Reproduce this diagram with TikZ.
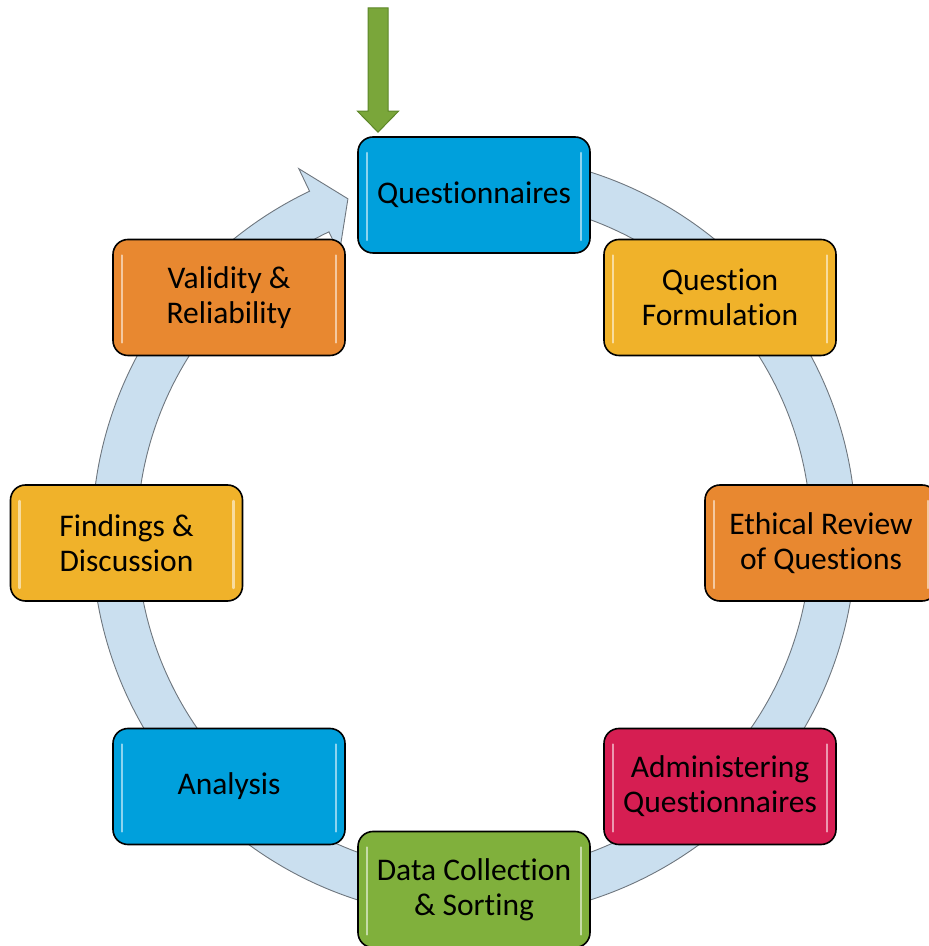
\documentclass[tikz,border=0pt]{standalone}
\usepackage{fontspec}
\setmainfont{Carlito}[Ligatures={NoCommon}]
\usetikzlibrary{calc}
\definecolor{stageblue}{RGB}{0,160,220}
\definecolor{stageyellow}{RGB}{240,178,42}
\definecolor{stageorange}{RGB}{232,136,48}
\definecolor{stagered}{RGB}{214,30,82}
\definecolor{stagegreen}{RGB}{128,176,60}
\definecolor{ringfill}{RGB}{202,223,239}
\definecolor{ringedge}{RGB}{110,118,126}
\definecolor{arrowgreen}{RGB}{122,166,58}
\definecolor{arrowedge}{RGB}{92,134,40}
\begin{document}
\begin{tikzpicture}[x=1pt,y=1pt,
  stage/.style={draw=black, line width=1.6pt, rounded corners=15pt,
    minimum width=232pt, minimum height=116pt, inner sep=0pt,
    align=center, font=\fontsize{31.5}{35}\selectfont, text=black,
    path picture={
      \draw[white, opacity=.55, line width=2.5pt, line cap=round]
        ([xshift=9pt,yshift=-16pt]path picture bounding box.north west) --
        ([xshift=9pt,yshift=13pt]path picture bounding box.south west);
      \draw[white, opacity=.55, line width=2.5pt, line cap=round]
        ([xshift=-9pt,yshift=-16pt]path picture bounding box.north east) --
        ([xshift=-9pt,yshift=13pt]path picture bounding box.south east);
    }},
  ring/.style={draw=ringedge, fill=ringfill, line width=0.9pt, line join=miter},
  entryarrow/.style={draw=arrowedge, fill=arrowgreen, line width=1pt}]
\useasboundingbox (0,0) rectangle (929,946);

% circular arrow behind the stages
\coordinate (c) at (474,410);
\path[ring]
  ($(c)+(85:382)$) arc[start angle=85, end angle=-244.5, radius=382]
  -- ($(c)+(115.5:407)$) -- ($(c)+(110.5:360)$) -- ($(c)+(115.5:313)$)
  -- ($(c)+(115.5:337)$) arc[start angle=-244.5, end angle=85, radius=337]
  -- cycle;

% stages of the cycle
\node[stage, fill=stageblue]   (q)  at (474,751) {Questionnaires};
\node[stage, fill=stageyellow] (qf) at (720,648.5) {Question\\Formulation};
\node[stage, fill=stageorange] (er) at (821,403)   {Ethical Review\\of Questions};
\node[stage, fill=stagered]    (aq) at (720,159.5) {Administering\\Questionnaires};
\node[stage, fill=stagegreen]  (dc) at (474,56.5)  {Data Collection\\\& Sorting};
\node[stage, fill=stageblue]   (an) at (229,159.5) {Analysis};
\node[stage, fill=stageyellow] (fd) at (126.5,403) {Findings \&\\Discussion};
\node[stage, fill=stageorange] (vr) at (229,648.5) {Validity \&\\Reliability};

% entry arrow into the first stage
\coordinate (entry) at (378,938);
\coordinate (tip) at ([xshift=-96pt,yshift=4pt]q.north);
\path[entryarrow]
  ($(entry)+(-10,0)$) -- ($(entry)+(10,0)$) -- ($(tip)+(10,21)$)
  -- ($(tip)+(20.5,21)$) -- (tip) -- ($(tip)+(-20.5,21)$)
  -- ($(tip)+(-10,21)$) -- cycle;
\end{tikzpicture}
\end{document}
